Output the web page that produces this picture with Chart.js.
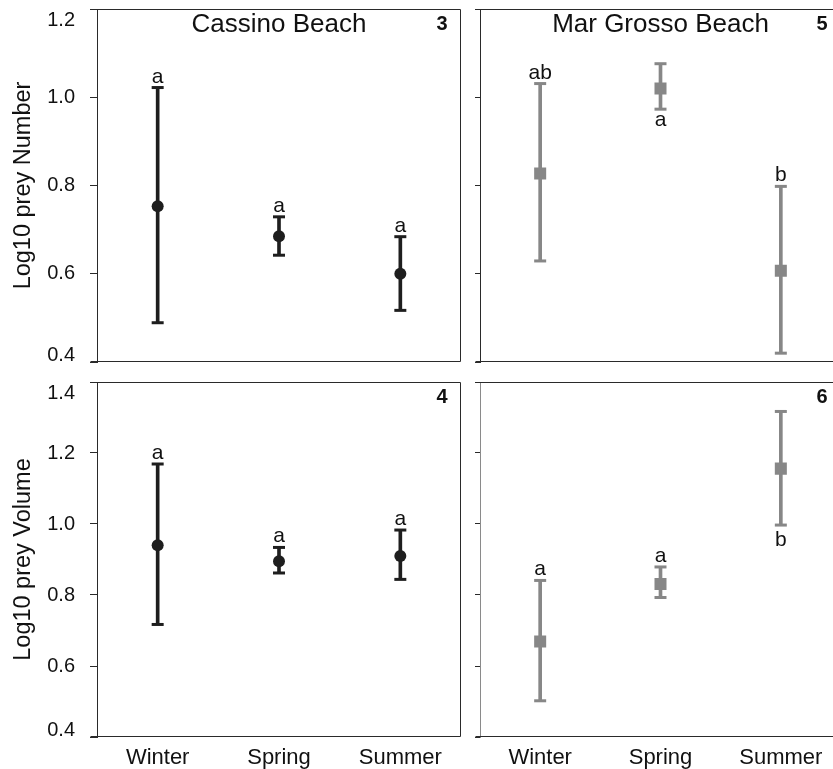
<!DOCTYPE html>
<html>
<head>
<meta charset="utf-8">
<script src="https://cdn.jsdelivr.net/npm/chart.js@4.4.0/dist/chart.umd.min.js"></script>
<style>
  html, body { margin: 0; padding: 0; background: #fff; overflow: hidden; width: 833px; height: 769px; }
  .p { position: absolute; }
</style>
</head>
<body>
<div class="p" style="left:0;top:0"><canvas id="c1" width="470" height="372"></canvas></div>
<div class="p" style="left:470px;top:0"><canvas id="c2" width="380" height="372"></canvas></div>
<div class="p" style="left:0;top:372px"><canvas id="c3" width="470" height="397"></canvas></div>
<div class="p" style="left:470px;top:372px"><canvas id="c4" width="380" height="397"></canvas></div>
<script>
// ---------------- data ----------------
const categories = ['Winter', 'Spring', 'Summer'];
const yTicksNumber = [0.4, 0.6, 0.8, 1.0, 1.2];
const yTicksVolume = [0.4, 0.6, 0.8, 1.0, 1.2, 1.4];

// Panel 3: Cassino Beach, Log10 prey Number
const cassinoNumberMean = [0.753, 0.685, 0.600];
const cassinoNumberLow  = [0.489, 0.642, 0.517];
const cassinoNumberHigh = [1.022, 0.729, 0.684];
const cassinoNumberLetters = ['a', 'a', 'a'];
const cassinoNumberLetterPos = ['above', 'above', 'above'];

// Panel 5: Mar Grosso Beach, Log10 prey Number
const marGrossoNumberMean = [0.827, 1.020, 0.607];
const marGrossoNumberLow  = [0.629, 0.973, 0.420];
const marGrossoNumberHigh = [1.031, 1.076, 0.798];
const marGrossoNumberLetters = ['ab', 'a', 'b'];
const marGrossoNumberLetterPos = ['above', 'below', 'above'];

// Panel 4: Cassino Beach, Log10 prey Volume
const cassinoVolumeMean = [0.940, 0.895, 0.910];
const cassinoVolumeLow  = [0.717, 0.862, 0.844];
const cassinoVolumeHigh = [1.169, 0.934, 0.983];
const cassinoVolumeLetters = ['a', 'a', 'a'];
const cassinoVolumeLetterPos = ['above', 'above', 'above'];

// Panel 6: Mar Grosso Beach, Log10 prey Volume
const marGrossoVolumeMean = [0.669, 0.831, 1.156];
const marGrossoVolumeLow  = [0.502, 0.793, 0.997];
const marGrossoVolumeHigh = [0.841, 0.879, 1.317];
const marGrossoVolumeLetters = ['a', 'a', 'b'];
const marGrossoVolumeLetterPos = ['above', 'above', 'below'];

// ---------------- drawing ----------------
const FONT = "'Liberation Sans', Arial, Helvetica, sans-serif";
const DARK = '#1e1e1e';
const GRAY = '#878787';

function makePanel(id, cfg) {
  const deco = {
    id: 'deco_' + id,
    beforeDatasetsDraw(chart) {
      const a = chart.chartArea;
      const c = chart.ctx;
      c.save();
      c.strokeStyle = '#2a2a2a';
      c.lineWidth = 1;
      const L = Math.round(a.left) + 0.5, R = Math.round(a.right) - 0.5;
      const T = Math.round(a.top) + 0.5, B = Math.round(a.bottom) - 0.5;
      c.beginPath();
      c.moveTo(L - cfg.tickLen, T); c.lineTo(R, T); c.lineTo(R, B); c.lineTo(L - cfg.tickLen, B);
      c.stroke();
      c.restore();
    },
    afterDatasetsDraw(chart) {
      const a = chart.chartArea;
      const c = chart.ctx;
      const xs = chart.scales.x, ys = chart.scales.y;
      c.save();
      c.fillStyle = '#111';
      // y tick labels (end labels kept inside the panel, as in the original)
      if (cfg.showYLabels) {
        c.font = '20px ' + FONT;
        c.textAlign = 'right';
        c.textBaseline = 'middle';
        ys.ticks.forEach(t => {
          let y = ys.getPixelForValue(t.value);
          y = Math.max(y, a.top + 11);
          y = Math.min(y, a.bottom - 7);
          c.fillText(Number(t.value).toFixed(1), a.left - cfg.tickLen - 15, y);
        });
      }
      c.textAlign = 'center';
      c.font = '21px ' + FONT;
      cfg.letters.forEach((t, i) => {
        const x = xs.getPixelForValue(i);
        c.textBaseline = 'alphabetic';
        if (cfg.letterPos[i] === 'above') {
          c.fillText(t, x, ys.getPixelForValue(cfg.high[i]) - 5);
        } else {
          const asc = c.measureText(t).actualBoundingBoxAscent;
          c.fillText(t, x, ys.getPixelForValue(cfg.low[i]) + 6 + asc);
        }
      });
      if (cfg.title) {
        c.font = '26px ' + FONT;
        c.textBaseline = 'middle';
        c.fillText(cfg.title, (a.left + a.right) / 2, a.top + 16);
      }
      c.font = 'bold 20px ' + FONT;
      c.textBaseline = 'middle';
      c.fillText(cfg.num, a.right - 19, a.top + 15);
      c.restore();
    }
  };

  new Chart(document.getElementById(id), {
    type: 'bar',
    data: {
      labels: categories,
      datasets: [
        { type: 'line', data: cfg.mean, showLine: false, pointStyle: cfg.marker,
          pointRadius: cfg.markerRadius, pointBackgroundColor: cfg.color,
          pointBorderColor: cfg.color, pointBorderWidth: 0, order: 0 },
        { type: 'line', data: cfg.high, showLine: false, pointStyle: 'line',
          pointRadius: 6, pointBorderColor: cfg.color, pointBorderWidth: 3, order: 1 },
        { type: 'line', data: cfg.low, showLine: false, pointStyle: 'line',
          pointRadius: 6, pointBorderColor: cfg.color, pointBorderWidth: 3, order: 1 },
        { type: 'bar', data: cfg.low.map((l, i) => [l, cfg.high[i]]),
          backgroundColor: cfg.color, barThickness: 3, order: 2 }
      ]
    },
    options: {
      responsive: false,
      animation: false,
      devicePixelRatio: 1,
      events: [],
      layout: { padding: { left: 0, top: cfg.top, right: cfg.rightPad, bottom: cfg.bottomPad } },
      plugins: { legend: { display: false }, tooltip: { enabled: false } },
      scales: {
        x: {
          type: 'category',
          offset: true,
          display: cfg.showX,
          grid: { display: false, drawTicks: false },
          border: { display: false },
          ticks: { font: { family: FONT, size: 22 }, color: '#111', padding: 8, maxRotation: 0 },
          afterFit(s) { s.height = cfg.xHeight; s.paddingLeft = 0; s.paddingRight = 0; }
        },
        y: {
          min: cfg.yTicks[0],
          max: cfg.yTicks[cfg.yTicks.length - 1],
          afterBuildTicks(s) { s.ticks = cfg.yTicks.map(v => ({ value: v })); },
          ticks: { display: false },
          grid: { drawOnChartArea: false, drawTicks: true, tickLength: cfg.tickLen, color: '#2a2a2a', lineWidth: 1 },
          border: { display: true, color: cfg.axisColor, width: 1 },
          title: {
            display: !!cfg.yTitle,
            text: cfg.yTitle || '',
            font: { family: FONT, size: 23.5 },
            color: '#111',
            padding: { top: 9, bottom: 0 }
          },
          afterFit(s) { s.width = cfg.left; s.paddingTop = 0; s.paddingBottom = 0; }
        }
      }
    },
    plugins: [deco]
  });
}

makePanel('c1', {
  mean: cassinoNumberMean, low: cassinoNumberLow, high: cassinoNumberHigh,
  letters: cassinoNumberLetters, letterPos: cassinoNumberLetterPos,
  yTicks: yTicksNumber, color: DARK, marker: 'circle', markerRadius: 6,
  title: 'Cassino Beach', num: '3', yTitle: 'Log10 prey Number',
  showX: false, showYLabels: true, tickLen: 7, axisColor: '#2a2a2a',
  left: 97, top: 7, rightPad: 9, bottomPad: 10, xHeight: 0
});
makePanel('c2', {
  mean: marGrossoNumberMean, low: marGrossoNumberLow, high: marGrossoNumberHigh,
  letters: marGrossoNumberLetters, letterPos: marGrossoNumberLetterPos,
  yTicks: yTicksNumber, color: GRAY, marker: 'rect', markerRadius: 8.5,
  title: 'Mar Grosso Beach', num: '5', yTitle: null,
  showX: false, showYLabels: false, tickLen: 5, axisColor: '#2a2a2a',
  left: 10, top: 7, rightPad: 5, bottomPad: 10, xHeight: 0
});
makePanel('c3', {
  mean: cassinoVolumeMean, low: cassinoVolumeLow, high: cassinoVolumeHigh,
  letters: cassinoVolumeLetters, letterPos: cassinoVolumeLetterPos,
  yTicks: yTicksVolume, color: DARK, marker: 'circle', markerRadius: 6,
  title: null, num: '4', yTitle: 'Log10 prey Volume',
  showX: true, showYLabels: true, tickLen: 7, axisColor: '#2a2a2a',
  left: 97, top: 10, rightPad: 9, bottomPad: 0, xHeight: 32
});
makePanel('c4', {
  mean: marGrossoVolumeMean, low: marGrossoVolumeLow, high: marGrossoVolumeHigh,
  letters: marGrossoVolumeLetters, letterPos: marGrossoVolumeLetterPos,
  yTicks: yTicksVolume, color: GRAY, marker: 'rect', markerRadius: 8.5,
  title: null, num: '6', yTitle: null,
  showX: true, showYLabels: false, tickLen: 5, axisColor: '#8a8a8a',
  left: 10, top: 10, rightPad: 5, bottomPad: 0, xHeight: 32
});
</script>
</body>
</html>
